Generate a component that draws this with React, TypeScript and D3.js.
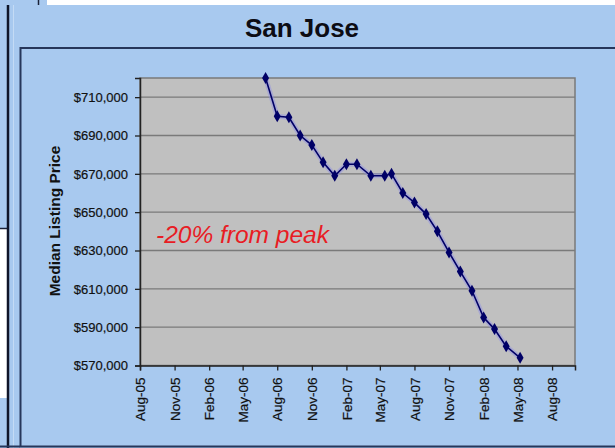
import React, { useEffect, useRef } from 'react';
import * as d3 from 'd3';

const chartTitle = 'San Jose';
const yAxisTitle = 'Median Listing Price';
const annotation = '-20% from peak';

const dates = [
  '2006-07-01', '2006-08-01', '2006-09-01', '2006-10-01', '2006-11-01', '2006-12-01',
  '2007-01-01', '2007-02-01', '2007-03-01', '2007-04-07', '2007-05-14', '2007-06-01',
  '2007-07-01', '2007-08-01', '2007-09-01', '2007-10-01', '2007-11-01', '2007-12-01',
  '2008-01-01', '2008-02-01', '2008-03-01', '2008-04-01', '2008-05-08',
];
const prices = [
  720000, 700000, 699500, 690000, 685000, 676000,
  669000, 675000, 675000, 669000, 669000, 670000,
  660000, 655000, 649000, 640000, 629000, 619000,
  609000, 595000, 589000, 580000, 574000,
];
const xTickLabels = [
  'Aug-05', 'Nov-05', 'Feb-06', 'May-06', 'Aug-06', 'Nov-06', 'Feb-07',
  'May-07', 'Aug-07', 'Nov-07', 'Feb-08', 'May-08', 'Aug-08',
];
const yTickValues = [570000, 590000, 610000, 630000, 650000, 670000, 690000, 710000];
const xDomain = ['2005-08-01', '2008-10-01'];
const yDomain = [570000, 720000];

export default function App() {
  const ref = useRef<SVGSVGElement>(null);

  useEffect(() => {
    const svg = d3.select(ref.current);
    svg.selectAll('*').remove();
    const W = 615, H = 448;
    const font = '"Liberation Sans", Arial, sans-serif';
    const parseDate = d3.timeParse('%Y-%m-%d');
    const parseTick = d3.timeParse('%b-%y');

    // backgrounds
    svg.append('rect').attr('width', W).attr('height', H).attr('fill', '#a8c9ef');
    svg.append('rect').attr('x', 47).attr('y', 0).attr('width', W - 47).attr('height', 5).attr('fill', '#ffffff');
    svg.append('line').attr('x1', 38.5).attr('x2', 38.5).attr('y1', 0).attr('y2', 5).attr('stroke', '#1a2238').attr('stroke-width', 1.5);
    svg.append('rect').attr('x', 0).attr('y', 229).attr('width', 7).attr('height', 169).attr('fill', '#ffffff');
    svg.append('line').attr('x1', 0).attr('x2', 8).attr('y1', 228.5).attr('y2', 228.5).attr('stroke', '#1a2238').attr('stroke-width', 1.5);
    svg.append('line').attr('x1', 8).attr('x2', 8).attr('y1', 5).attr('y2', H).attr('stroke', '#0e1428').attr('stroke-width', 2.5);
    svg.append('line').attr('x1', 13.5).attr('x2', 13.5).attr('y1', 5).attr('y2', H).attr('stroke', '#c4dbf5').attr('stroke-width', 1);
    svg.append('rect').attr('x', 20.5).attr('y', 48).attr('width', W).attr('height', 398.5)
      .attr('fill', 'none').attr('stroke', '#26365a').attr('stroke-width', 2);
    svg.append('line').attr('x1', 0).attr('x2', 20).attr('y1', 446.5).attr('y2', 446.5).attr('stroke', '#26365a').attr('stroke-width', 2);

    // title
    svg.append('text').attr('x', 302).attr('y', 37).attr('text-anchor', 'middle')
      .attr('font-family', font).attr('font-weight', 'bold').attr('font-size', 26)
      .attr('fill', '#0c0c14').text(chartTitle);

    const left = 140, right = 575, top = 78, bottom = 365.5;
    const x = d3.scaleTime().domain(xDomain.map((d) => parseDate(d) as Date)).range([left, right]);
    const y = d3.scaleLinear().domain(yDomain).range([bottom, top]);

    // plot area
    svg.append('rect').attr('x', left).attr('y', top).attr('width', right - left).attr('height', bottom - top)
      .attr('fill', '#c0c0c0').attr('stroke', '#7a7a7a').attr('stroke-width', 1.5);

    // gridlines
    svg.append('g').selectAll('line').data(yTickValues.filter((v) => v > yDomain[0])).join('line')
      .attr('x1', left).attr('x2', right).attr('y1', (d) => y(d)).attr('y2', (d) => y(d))
      .attr('stroke', '#7a7a7a').attr('stroke-width', 1.3);

    // y axis
    const yAxis = svg.append('g').attr('transform', `translate(${left},0)`)
      .call(d3.axisLeft(y).tickValues(yTickValues).tickSize(5).tickPadding(7)
        .tickFormat((d) => '$' + d3.format(',')(d as number)));
    yAxis.select('.domain').attr('stroke', '#222').attr('stroke-width', 1.5);
    yAxis.selectAll('.tick line').attr('stroke', '#222').attr('stroke-width', 1.3);
    yAxis.selectAll('.tick text').attr('font-family', font).attr('font-size', 13)
      .attr('fill', '#111').attr('stroke', '#111').attr('stroke-width', 0.2);

    // x axis
    const xTicks = xTickLabels.map((s) => parseTick(s) as Date);
    const xAxis = svg.append('g').attr('transform', `translate(0,${bottom})`)
      .call(d3.axisBottom(x).tickValues(xTicks).tickSize(5).tickFormat(d3.timeFormat('%b-%y') as any));
    xAxis.select('.domain').attr('stroke', '#222').attr('stroke-width', 1.5);
    xAxis.selectAll('.tick line').attr('stroke', '#222').attr('stroke-width', 1.3);
    xAxis.selectAll('.tick text')
      .attr('font-family', font).attr('font-size', 13.5).attr('fill', '#111')
      .attr('stroke', '#111').attr('stroke-width', 0.2)
      .attr('text-anchor', 'end').attr('transform', 'rotate(-90)')
      .attr('x', -12).attr('y', 0).attr('dy', '0.35em');

    // y axis title
    svg.append('text').attr('transform', 'translate(60,221) rotate(-90)')
      .attr('text-anchor', 'middle').attr('font-family', font).attr('font-weight', 'bold')
      .attr('font-size', 15.5).attr('fill', '#111').text(yAxisTitle);

    // data
    const data = dates.map((d, i) => ({ date: parseDate(d) as Date, value: prices[i] }));
    const line = d3.line<{ date: Date; value: number }>().x((d) => x(d.date)).y((d) => y(d.value));
    svg.append('path').datum(data).attr('d', line).attr('fill', 'none')
      .attr('stroke', '#8f8fe6').attr('stroke-opacity', 0.45).attr('stroke-width', 5);
    svg.append('path').datum(data).attr('d', line).attr('fill', 'none')
      .attr('stroke', '#000066').attr('stroke-width', 1.6);
    const sym = d3.symbol().type(d3.symbolDiamond).size(42);
    svg.append('g').selectAll('path').data(data).join('path')
      .attr('transform', (d) => `translate(${x(d.date)},${y(d.value)})`)
      .attr('d', sym).attr('fill', '#000066');

    // annotation
    svg.append('text').attr('x', 156).attr('y', 243).attr('font-family', font)
      .attr('font-style', 'italic').attr('font-size', 24.5).attr('fill', '#e81c24').text(annotation);
  }, []);

  return (
    <svg ref={ref} width={615} height={448}
      style={{ position: 'absolute', left: 0, top: 0, display: 'block' }} />
  );
}
